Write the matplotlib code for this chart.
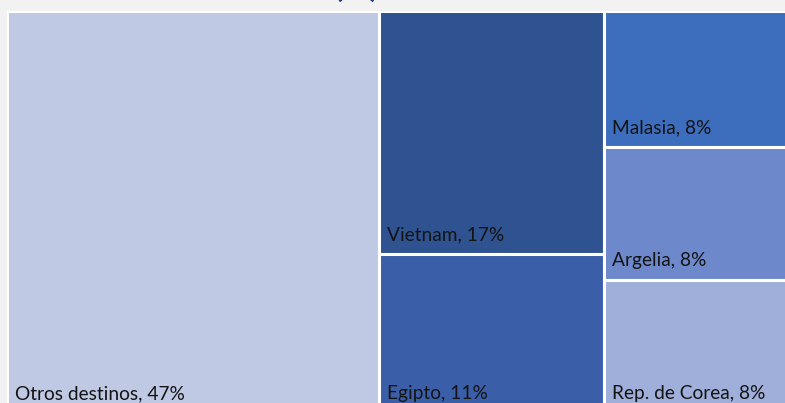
import matplotlib.pyplot as plt
from matplotlib.patches import Rectangle

# treemap data (share of total, %)
labels = ['Otros destinos', 'Vietnam', 'Egipto', 'Malasia', 'Argelia', 'Rep. de Corea']
values = [47.1, 17.2, 11.2, 8.3, 8.1, 8.1]
columns = [0, 1, 1, 2, 2, 2]
colors = ['#bfc9e3', '#2f5390', '#3a5fa8', '#3d6dbd', '#6e88cc', '#a0afd9']

plt.rcParams['font.family'] = ['Lato', 'DejaVu Sans']

fig = plt.figure(figsize=(7.85, 4.03), dpi=100, facecolor='#f2f2f2')
ax = fig.add_axes([6.5 / 785, -10 / 403, 791 / 785, 402 / 403])
ax.set_facecolor('#f2f2f2')

total = sum(values)
ax.set_xlim(0, total)
ax.set_ylim(1, 0)
ax.axis('off')

# simple column layout: column width ~ column sum, height ~ share within column
x0 = 0
for col in sorted(set(columns)):
    idx = [i for i, c in enumerate(columns) if c == col]
    colsum = sum(values[i] for i in idx)
    y0 = 0
    for i in idx:
        h = values[i] / colsum
        ax.add_patch(Rectangle((x0, y0), colsum, h, facecolor=colors[i],
                               edgecolor='white', linewidth=2.2))
        ax.annotate(f'{labels[i]}, {values[i]:.0f}%', xy=(x0, y0 + h),
                    xytext=(6, 8), textcoords='offset points',
                    ha='left', va='bottom', fontsize=13.8, color='#141414')
        y0 += h
    x0 += colsum

# title, mostly cut off at the top of the image
fig.text(357 / 785, 1.0 + 3 / 403, '(%)', ha='center', va='baseline',
         fontsize=24, fontweight='bold', color='#1f3a7a')

fig.savefig('out.png', dpi=100, facecolor=fig.get_facecolor())
